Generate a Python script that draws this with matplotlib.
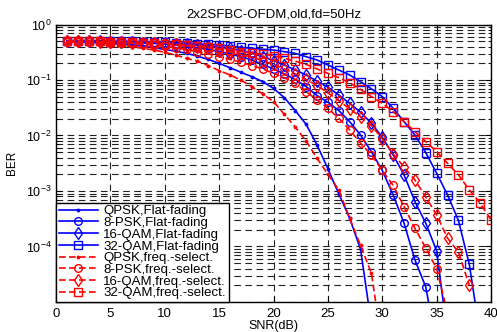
"""BER vs SNR for 2x2 SFBC-OFDM, flat vs frequency-selective fading."""

import matplotlib
matplotlib.use('Agg')
import matplotlib.pyplot as plt
from matplotlib.ticker import FixedLocator, FixedFormatter

plt.rcParams['font.family'] = ['Liberation Sans', 'DejaVu Sans']
plt.rcParams['mathtext.default'] = 'regular'

# SNR axis (dB), one marker per dB
snr_db = list(range(1, 41))

# log10(BER), starting at 1 dB
qpsk_flat = [-0.31, -0.315, -0.32, -0.33, -0.34, -0.35, -0.37, -0.39, -0.42, -0.45,
             -0.48, -0.52, -0.57, -0.63, -0.70, -0.78, -0.86, -0.94, -1.03, -1.15,
             -1.32, -1.55, -1.80, -2.17, -2.60, -3.05, -3.49, -4.05, -5.40]
qpsk_sel = [-0.31, -0.315, -0.32, -0.33, -0.35, -0.37, -0.40, -0.43, -0.46, -0.50,
            -0.55, -0.61, -0.66, -0.74, -0.83, -0.91, -1.00, -1.12, -1.25, -1.39,
            -1.62, -1.85, -2.10, -2.41, -2.70, -2.98, -3.49, -3.98, -4.48, -5.80]
psk8_flat = [-0.30, -0.30, -0.305, -0.31, -0.315, -0.32, -0.325, -0.33, -0.34, -0.35,
             -0.37, -0.39, -0.42, -0.45, -0.49, -0.53, -0.58, -0.64, -0.72, -0.80,
             -0.89, -0.99, -1.12, -1.28, -1.40, -1.55, -1.75, -1.99, -2.29, -2.63,
             -3.07, -3.58, -4.24, -4.73, -5.80]
psk8_sel = [-0.31, -0.31, -0.315, -0.32, -0.325, -0.33, -0.34, -0.355, -0.37, -0.39,
            -0.42, -0.45, -0.49, -0.53, -0.58, -0.63, -0.68, -0.74, -0.80, -0.88,
            -0.96, -1.06, -1.21, -1.36, -1.51, -1.69, -1.90, -2.14, -2.35, -2.63,
            -2.90, -3.28, -3.67, -4.03, -4.40, -5.20]
qam16_flat = [-0.30, -0.30, -0.30, -0.305, -0.31, -0.315, -0.32, -0.325, -0.33, -0.34,
              -0.35, -0.36, -0.37, -0.39, -0.41, -0.43, -0.47, -0.52, -0.58, -0.65,
              -0.73, -0.82, -0.91, -1.02, -1.13, -1.27, -1.42, -1.58, -1.78, -2.03,
              -2.35, -2.71, -3.19, -3.58, -4.08, -5.60]
qam16_sel = [-0.30, -0.30, -0.305, -0.31, -0.315, -0.32, -0.325, -0.33, -0.34, -0.35,
             -0.36, -0.38, -0.40, -0.42, -0.45, -0.49, -0.54, -0.59, -0.65, -0.72,
             -0.80, -0.89, -0.99, -1.10, -1.23, -1.37, -1.52, -1.66, -1.82, -2.06,
             -2.33, -2.57, -2.80, -3.11, -3.43, -3.85, -4.10, -4.70]
qam32_flat = [-0.29, -0.29, -0.29, -0.295, -0.30, -0.30, -0.305, -0.31, -0.315, -0.32,
              -0.33, -0.34, -0.35, -0.36, -0.37, -0.39, -0.41, -0.43, -0.445, -0.46,
              -0.49, -0.52, -0.58, -0.64, -0.73, -0.82, -0.91, -1.03, -1.16, -1.30,
              -1.51, -1.75, -1.99, -2.31, -2.68, -3.07, -3.53, -4.32, -5.60]
qam32_sel = [-0.30, -0.30, -0.30, -0.305, -0.31, -0.315, -0.32, -0.33, -0.34, -0.35,
             -0.36, -0.37, -0.39, -0.41, -0.43, -0.46, -0.49, -0.51, -0.535, -0.56,
             -0.61, -0.66, -0.72, -0.80, -0.88, -0.96, -1.05, -1.17, -1.30, -1.42,
             -1.57, -1.75, -1.93, -2.11, -2.29, -2.50, -2.71, -2.98, -3.22, -3.52]

series = [
    ("QPSK,Flat-fading", qpsk_flat, "b", "-", "."),
    ("8-PSK,Flat-fading", psk8_flat, "b", "-", "o"),
    ("16-QAM,Flat-fading", qam16_flat, "b", "-", "d"),
    ("32-QAM,Flat-fading", qam32_flat, "b", "-", "s"),
    ("QPSK,freq.-select.", qpsk_sel, "r", "--", "."),
    ("8-PSK,freq.-select.", psk8_sel, "r", "--", "o"),
    ("16-QAM,freq.-select.", qam16_sel, "r", "--", "d"),
    ("32-QAM,freq.-select.", qam32_sel, "r", "--", "s"),
]
marker_size = {".": 3.5, "o": 5.5, "d": 6, "s": 5.5}

x_ticks = [0, 5, 10, 15, 20, 25, 30, 35, 40]
y_ticks = [1e-5, 1e-4, 1e-3, 1e-2, 1e-1, 1e0]
y_tick_labels = ["", "$10^{-4}$", "$10^{-3}$", "$10^{-2}$", "$10^{-1}$", "$10^{0}$"]

fig = plt.figure(figsize=(4.97, 3.32), dpi=100)
ax = fig.add_axes([0.1127, 0.0904, 0.8753, 0.8358])

for label, logber, color, ls, marker in series:
    x = snr_db[:len(logber)]
    y = [10 ** v for v in logber]
    ax.semilogy(x, y, color=color, linestyle=ls, marker=marker,
                markersize=marker_size[marker],
                markerfacecolor="none" if marker != "." else color,
                markeredgewidth=1.0, linewidth=1.2, label=label,
                dashes=(4, 2) if ls == "--" else (None, None))

ax.set_xlim(0, 40)
ax.set_ylim(1e-5, 1)
ax.xaxis.set_major_locator(FixedLocator(x_ticks))
ax.yaxis.set_major_locator(FixedLocator(y_ticks))
ax.yaxis.set_major_formatter(FixedFormatter(y_tick_labels))
minor = [m * 10.0 ** e for e in range(-5, 0) for m in range(2, 10)]
ax.yaxis.set_minor_locator(FixedLocator(minor))

# MATLAB-style dashed grid
grid_kw = dict(color="#222222", linewidth=0.8, linestyle=(0, (6, 4)))
ax.xaxis.grid(True, which="major", **grid_kw)
ax.yaxis.grid(True, which="major", **grid_kw)
ax.yaxis.grid(True, which="minor", **grid_kw)
ax.set_axisbelow(True)

ax.tick_params(which="both", direction="in", top=True, right=True, colors="k")
ax.tick_params(axis="x", labelsize=9.5, pad=4)
ax.tick_params(axis="y", labelsize=9, pad=3)
ax.tick_params(which="major", length=4, width=0.8)
ax.tick_params(which="minor", length=2, width=0.6)
for sp in ax.spines.values():
    sp.set_linewidth(1.0)

ax.set_title("2x2SFBC-OFDM,old,fd=50Hz", fontsize=9.5, pad=5)
ax.set_xlabel("SNR(dB)", fontsize=9, labelpad=0)
ax.set_ylabel("BER", fontsize=8.5, labelpad=6)

leg = ax.legend(loc="lower left", bbox_to_anchor=(0, 0), borderaxespad=0,
                fontsize=9.5, handlelength=3.0, handletextpad=0.38,
                labelspacing=-0.04, borderpad=0.2, fancybox=False,
                framealpha=1, edgecolor="k", numpoints=1)
leg.get_frame().set_linewidth(1.0)

fig.savefig("out.png", dpi=100)
